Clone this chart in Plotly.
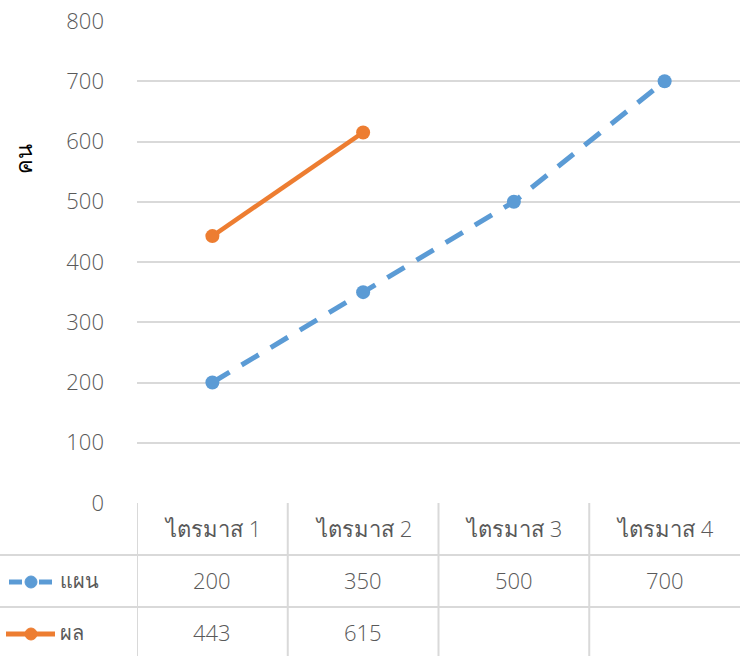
import plotly.graph_objects as go

categories = ["ไตรมาส 1", "ไตรมาส 2", "ไตรมาส 3", "ไตรมาส 4"]
plan_name = "แผน"
plan_values = [200, 350, 500, 700]
result_name = "ผล"
result_values = [443, 615, None, None]
y_title = "คน"
y_ticks = [0, 100, 200, 300, 400, 500, 600, 700, 800]

BLUE = "#5B9BD5"
ORANGE = "#ED7D31"
TXT = "#595959"
GRID = "#D9D9D9"
FONT = "Open Sans, Noto Sans, sans-serif"
FW = 300
SHIFT = -15

W, H = 740, 656
ML, MR, MT, MB = 137, 0, 21, 153
PW = W - ML - MR
PH = H - MT - MB


def px_x(p):
    return (p - ML) / PW


def px_y(p):
    return (H - MB - p) / PH


fig = go.Figure()
fig.add_trace(go.Scatter(
    x=categories, y=plan_values, name=plan_name, mode="lines+markers",
    line=dict(color=BLUE, width=5, dash="20px,14px"),
    marker=dict(color=BLUE, size=14, symbol="circle"),
    showlegend=False,
))
fig.add_trace(go.Scatter(
    x=categories, y=result_values, name=result_name, mode="lines+markers",
    line=dict(color=ORANGE, width=4.5),
    marker=dict(color=ORANGE, size=14, symbol="circle"),
    showlegend=False,
))

shapes = []
annotations = []
# table horizontal lines
for py, x0 in [(555, 0), (607, 0)]:
    shapes.append(dict(type="line", xref="paper", yref="paper",
                       x0=px_x(x0), x1=1, y0=px_y(py), y1=px_y(py),
                       line=dict(color=GRID, width=2)))
# table vertical lines
for i in range(len(categories)):
    shapes.append(dict(type="line", xref="x", yref="paper",
                       x0=i - 0.5, x1=i - 0.5, y0=px_y(503), y1=px_y(H),
                       line=dict(color=GRID, width=2)))

row_y = [px_y(530), px_y(582), px_y(634)]
tfont = dict(family=FONT, size=22, color=TXT, weight=FW)
lfont = dict(family=FONT, size=20, color=TXT, weight=FW)
for i, c in enumerate(categories):
    annotations.append(dict(x=c, y=row_y[0], xref="x", yref="paper", text=c,
                            showarrow=False, font=tfont, yshift=SHIFT))
    for r, vals in [(1, plan_values), (2, result_values)]:
        v = vals[i]
        if v is not None:
            annotations.append(dict(x=c, y=row_y[r], xref="x", yref="paper",
                                    text=str(v), showarrow=False, font=tfont,
                                    yshift=SHIFT))

# legend keys in table
for r, name, color, dashed in [(1, plan_name, BLUE, True), (2, result_name, ORANGE, False)]:
    yy = row_y[r]
    if dashed:
        segs = [(9, 22), (39, 52)]
    else:
        segs = [(6, 55)]
    for a, b in segs:
        shapes.append(dict(type="line", xref="paper", yref="paper",
                           x0=px_x(a), x1=px_x(b), y0=yy, y1=yy,
                           line=dict(color=color, width=5)))
    cy = 582 if r == 1 else 634
    shapes.append(dict(type="circle", xref="paper", yref="paper",
                       x0=px_x(25), x1=px_x(37), y0=px_y(cy - 6), y1=px_y(cy + 6),
                       fillcolor=color, line=dict(color=color, width=1)))
    annotations.append(dict(x=px_x(58), y=yy, xref="paper", yref="paper",
                            text=name, showarrow=False, xanchor="left", font=lfont,
                            yshift=SHIFT + 1))

# y-axis title
annotations.append(dict(x=px_x(6), y=px_y(142), xref="paper", yref="paper",
                        text=y_title, textangle=-90, showarrow=False,
                        font=dict(family=FONT, size=22, color="#000000", weight=FW)))

fig.update_layout(
    width=W, height=H,
    margin=dict(l=ML, r=MR, t=MT, b=MB, autoexpand=False),
    paper_bgcolor="white", plot_bgcolor="white",
    font=dict(family=FONT, color=TXT, weight=FW),
    shapes=shapes, annotations=annotations,
    xaxis=dict(type="category", range=[-0.5, len(categories) - 0.5],
               showticklabels=False, showgrid=False, zeroline=False,
               showline=False, ticks=""),
    yaxis=dict(range=[0, 800], tickvals=y_ticks, showgrid=True, gridcolor=GRID,
               gridwidth=2, zeroline=False, showline=False, ticks="",
               tickfont=dict(family=FONT, size=22, color=TXT, weight=FW),
               ticklabelstandoff=32),
)

fig.write_html("out.html", config={"displayModeBar": False},
               post_script="document.body.style.margin='0';")
